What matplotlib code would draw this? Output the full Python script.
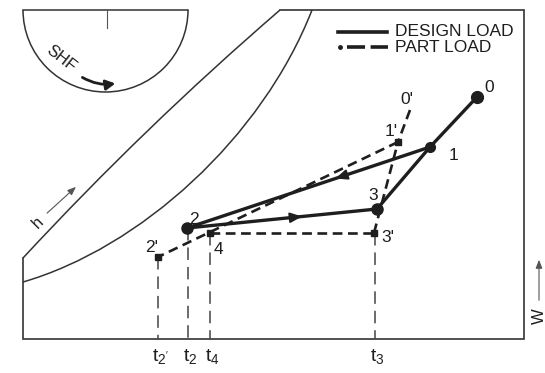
import matplotlib
matplotlib.use("Agg")
import matplotlib.pyplot as plt
from matplotlib.patches import Arc, PathPatch
from matplotlib.path import Path

plt.rcParams['font.family'] = ['Liberation Sans', 'DejaVu Sans']
plt.rcParams['lines.scale_dashes'] = False

# ---- data (chart coordinates: x = dry-bulb direction, y = downward screen units) ----
# design-load cycle: 0 -> 1 -> 2 -> 3 -> 1
design_labels = ['0', '1', '2', '3']
design_x = [477, 430, 187, 377]
design_y = [97, 147, 228, 209]

# part-load states
part_labels = ["0'", "1'", "2'", "3'", "4"]
part_x = [410, 398, 158, 374, 210]
part_y = [110, 142, 257, 233, 233]

# temperature ticks on the dry-bulb axis
tick_labels = [r"$\mathregular{t_{2'}}$", r"$\mathregular{t_2}$", r"$\mathregular{t_4}$", r"$\mathregular{t_3}$"]
tick_x = [158, 188, 210, 375]

# chart frame
frame_x = [23, 23, 524, 524, 280]
frame_y = [258, 339, 339, 10, 10]

INK = '#1e1e1e'

fig = plt.figure(figsize=(5.45, 3.73), dpi=100)
ax = fig.add_axes([0, 0, 1, 1])
ax.set_xlim(0, 545)
ax.set_ylim(373, 0)
ax.axis('off')

# frame
ax.plot(frame_x, frame_y, color='#333333', lw=1.2, solid_joinstyle='miter')

# SHF protractor (semicircle)
ax.plot([23, 188], [10, 10], color='#333333', lw=1.1)
ax.add_patch(Arc((105.5, 10), 165, 164, theta1=0, theta2=180, color='#333333', lw=1.1))
ax.plot([107, 107], [10, 28], color='#555555', lw=0.8)
ax.text(61, 59, 'SHF', rotation=-38, ha='center', va='center', fontsize=12, color=INK)
ax.annotate('', xy=(118, 83), xytext=(80, 76),
            arrowprops=dict(arrowstyle='-|>,head_length=0.55,head_width=0.3', color=INK, lw=2.0,
                            connectionstyle='arc3,rad=0.2'))

# enthalpy line and saturation curve
outer = Path([(23, 258), (144.5, 126.8), (280, 10)], [Path.MOVETO, Path.CURVE3, Path.CURVE3])
ax.add_patch(PathPatch(outer, fill=False, color='#333333', lw=1.1))
sat = Path([(23, 282), (140, 248), (262, 138), (312, 10)],
           [Path.MOVETO, Path.CURVE4, Path.CURVE4, Path.CURVE4])
ax.add_patch(PathPatch(sat, fill=False, color='#333333', lw=1.1))

# h and W axis hints
ax.text(38, 223, 'h', rotation=45, ha='center', va='center', fontsize=12, color=INK)
ax.annotate('', xy=(78, 185), xytext=(45, 215),
            arrowprops=dict(arrowstyle='-|>,head_length=0.5,head_width=0.2', color='#555555', lw=0.8))
ax.text(539, 316, 'W', rotation=90, ha='center', va='center', fontsize=12, color=INK)
ax.annotate('', xy=(539, 257), xytext=(539, 303),
            arrowprops=dict(arrowstyle='-|>,head_length=0.5,head_width=0.2', color='#555555', lw=0.8))

# vertical drop lines to the temperature axis
drop_top = [part_y[2], design_y[2], part_y[4], part_y[3]]
for x, yt in zip(tick_x, drop_top):
    ax.plot([x, x], [yt, 339], color='#444444', lw=1.1, dashes=(9, 5))

for lab, x in zip(tick_labels, tick_x):
    ax.text(x + 2, 357, lab, ha='center', va='center', fontsize=14, color=INK)

# part-load lines (dashed)
pd = dict(color=INK, lw=1.9, dashes=(7, 4))
P = dict(zip(part_labels, zip(part_x, part_y)))
D = dict(zip(design_labels, zip(design_x, design_y)))
for a, b in [("0'", "1'"), ("1'", "2'"), ("4", "3'"), ("3'", "1'")]:
    ax.plot([P[a][0], P[b][0]], [P[a][1], P[b][1]], **pd)

# design-load lines (solid)
for a, b in [('0', '1'), ('1', '2'), ('2', '3'), ('3', '1')]:
    ax.plot([D[a][0], D[b][0]], [D[a][1], D[b][1]], color=INK, lw=2.4, solid_capstyle='round')

def mid_arrow(p0, p1, f):
    hx = p0[0] + f * (p1[0] - p0[0]); hy = p0[1] + f * (p1[1] - p0[1])
    tx = p0[0] + (f - 0.05) * (p1[0] - p0[0]); ty = p0[1] + (f - 0.05) * (p1[1] - p0[1])
    ax.annotate('', xy=(hx, hy), xytext=(tx, ty),
                arrowprops=dict(arrowstyle='-|>,head_length=0.7,head_width=0.3', color=INK, lw=1.5))

mid_arrow(D['1'], D['2'], 0.40)
mid_arrow(D['2'], D['3'], 0.62)

# state point markers
ms_design = [8.5, 7, 8, 8]
for (x, y), ms in zip(zip(design_x, design_y), ms_design):
    ax.plot(x, y, 'o', color=INK, ms=ms)
for lab, x, y in zip(part_labels, part_x, part_y):
    if lab != "0'":
        ax.plot(x, y, 's', color=INK, ms=4.5)

# state labels
label_pos = {'0': (489, 87), '1': (453, 156), '2': (194, 220), '3': (373, 196),
             "0'": (407, 99), "1'": (391, 131), "2'": (152, 248), "3'": (388, 237), '4': (218, 250)}
for lab, (x, y) in label_pos.items():
    ax.text(x, y, lab, ha='center', va='center', fontsize=12.5, color=INK)

# legend
ax.plot([338, 387], [32, 32], color=INK, lw=2.6)
ax.text(395, 32, 'DESIGN LOAD', ha='left', va='center', fontsize=12.5, color=INK)
ax.plot([340], [47], 'o', color=INK, ms=2.5)
ax.plot([347, 388], [47, 47], color=INK, lw=2.6, dashes=(13, 4))
ax.text(395, 47.5, 'PART LOAD', ha='left', va='center', fontsize=12.5, color=INK)

fig.savefig('out.png', dpi=100, facecolor='white')
